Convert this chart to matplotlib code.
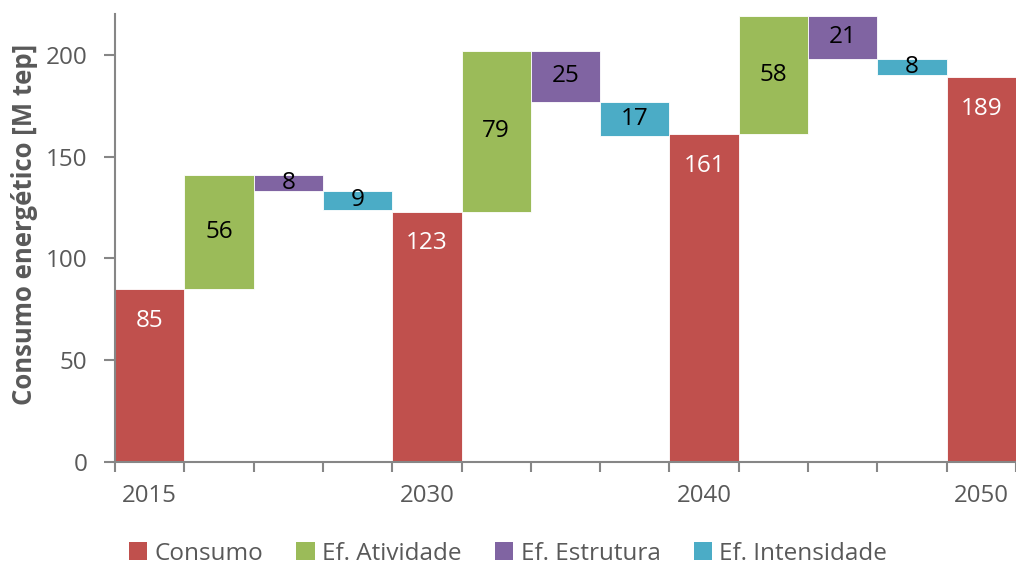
import matplotlib
matplotlib.use("Agg")
import matplotlib.pyplot as plt
from matplotlib.patches import Patch
import numpy as np

# ── data ────────────────────────────────────────────────────────────────────
years = ["2015", "2030", "2040", "2050"]
consumo = [85, 123, 161, 189]
ef_atividade = [56, 79, 58]
ef_estrutura = [-8, -25, -21]
ef_intensidade = [-9, -17, -8]

series_names = ["Consumo", "Ef. Atividade", "Ef. Estrutura", "Ef. Intensidade"]
COLORS = {
    "Consumo": "#C0504D",
    "Ef. Atividade": "#9BBB59",
    "Ef. Estrutura": "#8064A2",
    "Ef. Intensidade": "#4BACC6",
}
GREY = "#595959"
AXIS = "#868686"

plt.rcParams.update({
    "font.family": ["Open Sans", "DejaVu Sans"],
    "font.size": 17,
})

# build the waterfall sequence
bars = []  # (series, bottom, height, label)
for i, c in enumerate(consumo):
    bars.append(("Consumo", 0, c, c))
    if i < len(ef_atividade):
        level = c
        for name, vals in [("Ef. Atividade", ef_atividade),
                           ("Ef. Estrutura", ef_estrutura),
                           ("Ef. Intensidade", ef_intensidade)]:
            v = vals[i]
            bars.append((name, min(level, level + v), abs(v), abs(v)))
            level += v

x = np.arange(len(bars))

fig = plt.figure(figsize=(10.16, 5.66), dpi=100)
ax = fig.add_axes([0.1132, 0.1837, 0.8868, 0.7915])

for xi, (name, bottom, height, lab) in zip(x, bars):
    ax.bar(xi, height, width=1.0, bottom=bottom, color=COLORS[name],
           edgecolor="white", linewidth=0.6)
    if name == "Consumo":
        ax.text(xi, bottom + height - 15.5, f"{lab}", ha="center", va="center",
                color="white", fontsize=17.5)
    else:
        ax.text(xi, bottom + height / 2, f"{lab}", ha="center", va="center",
                color="black", fontsize=17.5)

ax.set_xlim(-0.5, len(bars) - 0.5)
ax.set_ylim(0, 220)
ax.set_yticks([0, 50, 100, 150, 200])

# category labels only on the consumption bars, tick marks on boundaries
ax.set_xticks([i for i, b in enumerate(bars) if b[0] == "Consumo"])
ax.set_xticklabels(years)
ax.set_xticks(np.arange(-0.5, len(bars)), minor=True)
ax.tick_params(axis="x", which="major", length=0, pad=16, labelsize=17.3,
               labelcolor=GREY)
ax.tick_params(axis="x", which="minor", length=7, width=1.5, color=AXIS)
ax.tick_params(axis="y", length=8, width=1.5, color=AXIS, labelsize=17.5,
               labelcolor=GREY, pad=12)

for side in ["top", "right"]:
    ax.spines[side].set_visible(False)
for side in ["left", "bottom"]:
    ax.spines[side].set_color(AXIS)
    ax.spines[side].set_linewidth(1.5)

ax.set_ylabel("Consumo energético [M tep]", fontsize=18.5, fontweight="bold",
              color=GREY)
ax.yaxis.set_label_coords(-0.086, 0.53)

handles = [Patch(facecolor=COLORS[n], edgecolor="none", label=n) for n in series_names]
fig.legend(handles=handles, loc="lower center", ncol=4, frameon=False,
           bbox_to_anchor=(0.5, -0.038), fontsize=17.5, labelcolor=GREY,
           handlelength=0.75, handleheight=0.75, handletextpad=0.3,
           columnspacing=1.38)

fig.savefig("out.png", dpi=100)
